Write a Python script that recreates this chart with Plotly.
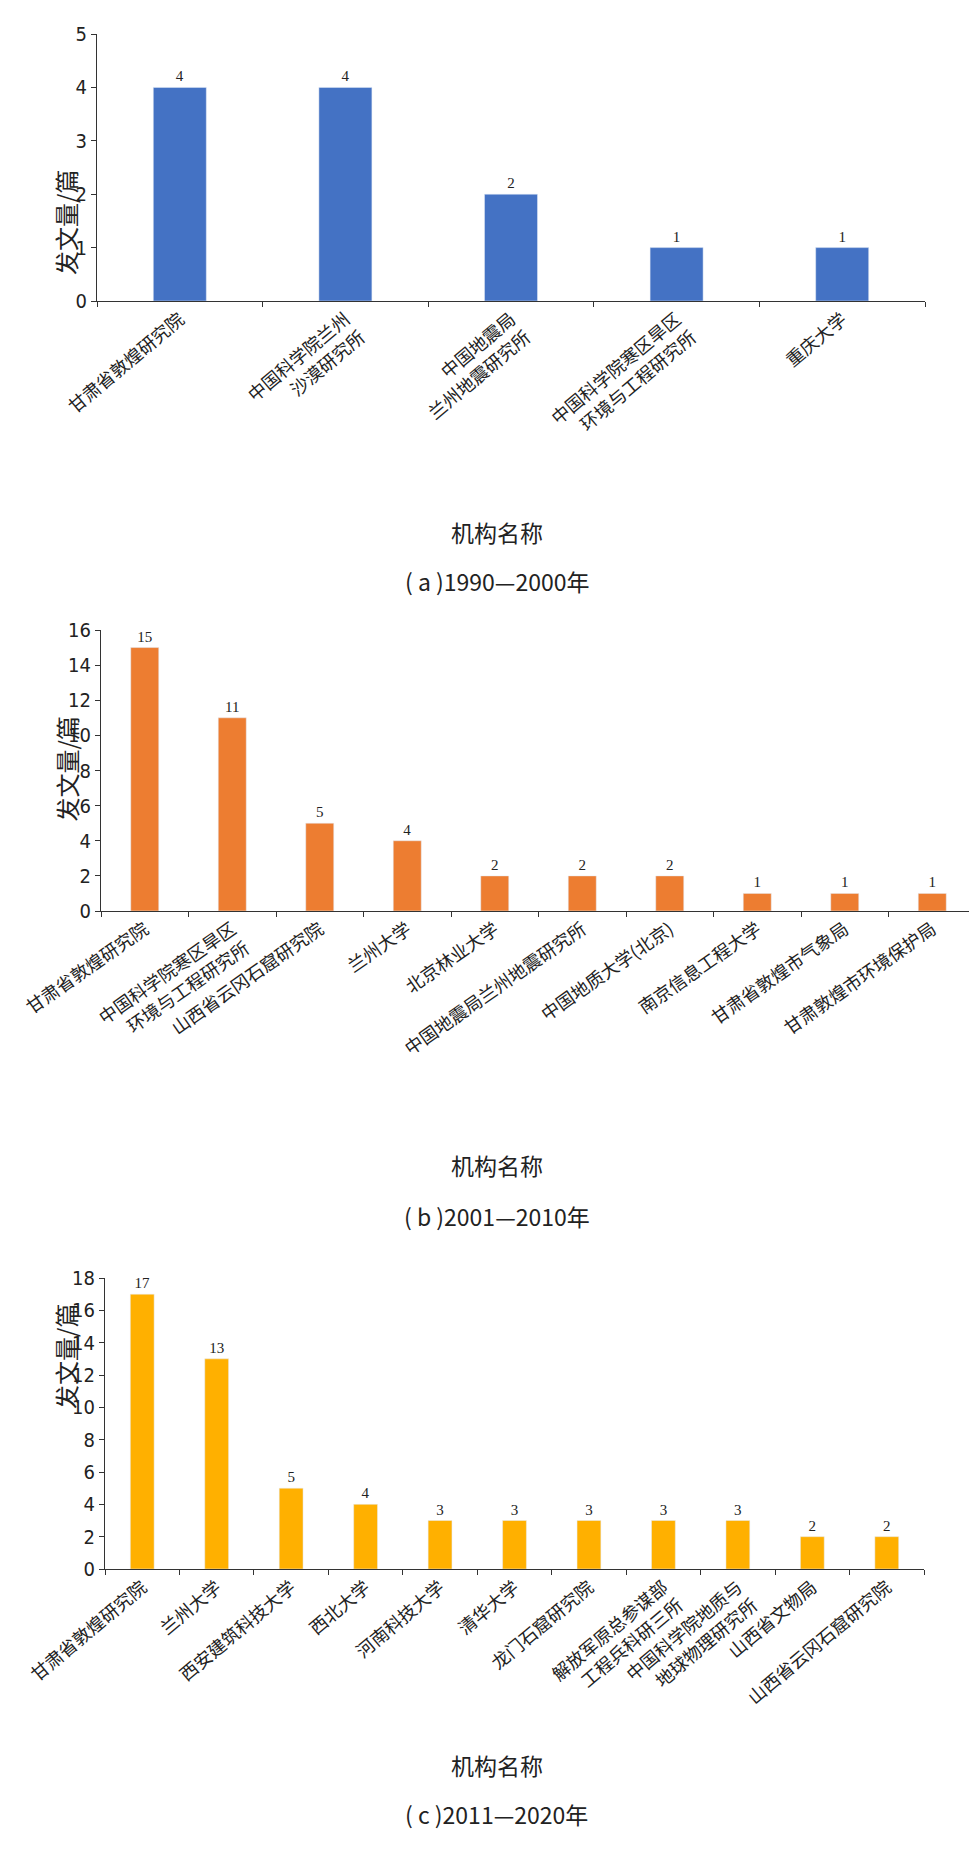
import plotly.graph_objects as go

# panel (a) 1990-2000
cats_a = ["甘肃省敦煌研究院", "中国科学院兰州<br>沙漠研究所", "中国地震局<br>兰州地震研究所",
          "中国科学院寒区旱区<br>环境与工程研究所", "重庆大学"]
vals_a = [4, 4, 2, 1, 1]

# panel (b) 2001-2010
cats_b = ["甘肃省敦煌研究院", "中国科学院寒区旱区<br>环境与工程研究所", "山西省云冈石窟研究院", "兰州大学",
          "北京林业大学", "中国地震局兰州地震研究所", "中国地质大学(北京)", "南京信息工程大学",
          "甘肃省敦煌市气象局", "甘肃敦煌市环境保护局"]
vals_b = [15, 11, 5, 4, 2, 2, 2, 1, 1, 1]

# panel (c) 2011-2020
cats_c = ["甘肃省敦煌研究院", "兰州大学", "西安建筑科技大学", "西北大学", "河南科技大学", "清华大学",
          "龙门石窟研究院", "解放军原总参谋部<br>工程兵科研三所", "中国科学院地质与<br>地球物理研究所",
          "山西省文物局", "山西省云冈石窟研究院"]
vals_c = [17, 13, 5, 4, 3, 3, 3, 3, 3, 2, 2]

W, H = 977, 1855
cjk = "Noto Sans CJK SC"
axis_col = "#333333"

fig = go.Figure()
panels = [
    (cats_a, vals_a, "#4472C4", "x", "y", 5, 1, -40),
    (cats_b, vals_b, "#ED7D31", "x2", "y2", 16, 2, -35),
    (cats_c, vals_c, "#FFB000", "x3", "y3", 18, 2, -40),
]
for cats, vals, col, xa, ya, ymax, dt, rot in panels:
    fig.add_trace(go.Bar(
        x=cats, y=vals, marker_color=col, xaxis=xa, yaxis=ya,
        text=vals, textposition="outside", cliponaxis=False,
        textfont=dict(family="Liberation Serif", size=15, color="#222"),
        width=0.32, showlegend=False))

# domains in pixels: (x0, x1, ytop, ybottom)
doms = [(89, 917, 26, 293), (93, 968, 622, 903), (97, 916, 1270, 1561)]
layout = {}
for i, ((x0, x1, yt, yb), p) in enumerate(zip(doms, panels)):
    sfx = "" if i == 0 else str(i + 1)
    layout["xaxis" + sfx] = dict(
        domain=[x0 / W, x1 / W], anchor="y" + sfx, showline=True, linecolor=axis_col,
        ticks="outside", tickson="boundaries", ticklen=5, tickcolor=axis_col,
        tickangle=p[7], tickfont=dict(family=cjk, size=18, color="#222"),
        showgrid=False, automargin=False)
    layout["yaxis" + sfx] = dict(
        domain=[1 - yb / H, 1 - yt / H], anchor="x" + sfx, range=[0, p[5]], dtick=p[6],
        showline=True, linecolor=axis_col, ticks="outside", ticklen=5, tickcolor=axis_col,
        tickfont=dict(family="DejaVu Sans Condensed", size=20, color="#222"),
        showgrid=False, zeroline=False, automargin=False)

annos = []
ytitles = [160, 761, 1403]
xtitles = [505, 1157, 1776]
captions = [(554, "( a )1990—2000年"), (1208, "( b )2001—2010年"), (1825, "( c )2011—2020年")]
for yy in ytitles:
    annos.append(dict(text="发文量/篇", x=38 / W, y=1 - yy / H, xref="paper", yref="paper",
                      textangle=-90, showarrow=False, font=dict(family=cjk, size=24, color="#222")))
for yy in xtitles:
    annos.append(dict(text="机构名称", x=0.5, y=1 - yy / H, xref="paper", yref="paper",
                      showarrow=False, font=dict(family=cjk, size=23, color="#222")))
for yy, t in captions:
    annos.append(dict(text=t, x=0.5, y=1 - yy / H, xref="paper", yref="paper",
                      showarrow=False, font=dict(family=cjk, size=23, color="#222")))

fig.update_layout(width=W, height=H, margin=dict(l=0, r=0, t=0, b=0),
                  plot_bgcolor="white", paper_bgcolor="white", bargap=0.68,
                  annotations=annos, **layout)
fig.write_html("out.html")
